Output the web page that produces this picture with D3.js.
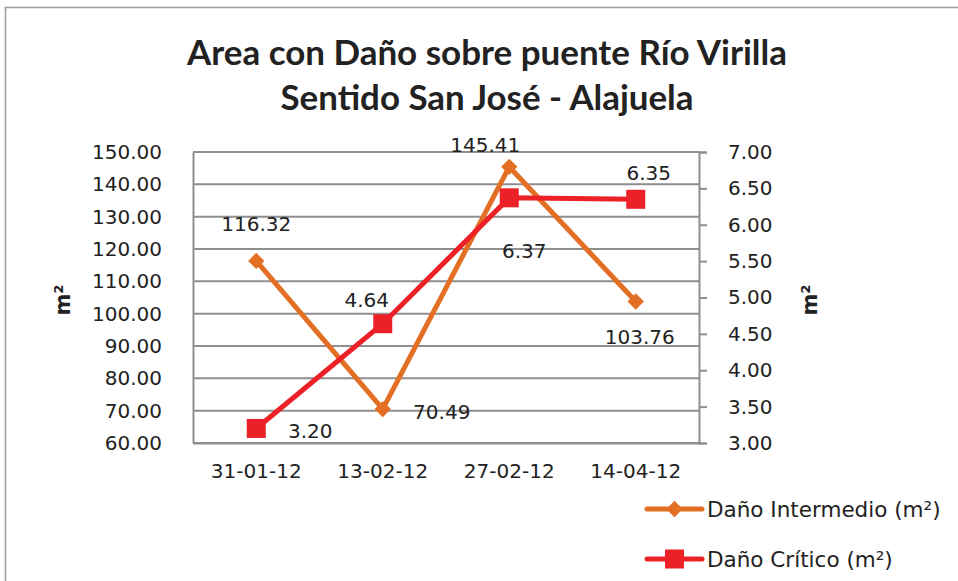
<!DOCTYPE html>
<html>
<head>
<meta charset="utf-8">
<script src="https://cdn.jsdelivr.net/npm/d3@7"></script>
<style>
  body { margin: 0; background: #fff; }
  text { font-family: "DejaVu Sans", sans-serif; fill: #222; }
</style>
</head>
<body>
<div id="chart"></div>
<script>
var fechas = ["31-01-12", "13-02-12", "27-02-12", "14-04-12"];
var intermedio = [116.32, 70.49, 145.41, 103.76];
var critico = [3.20, 4.64, 6.37, 6.35];
var leftTicks = [60, 70, 80, 90, 100, 110, 120, 130, 140, 150];
var rightTicks = [3, 3.5, 4, 4.5, 5, 5.5, 6, 6.5, 7];
var titulo = ["Area con Daño sobre puente Río Virilla", "Sentido San José - Alajuela"];
var series = ["Daño Intermedio (m²)", "Daño Crítico (m²)"];

// label placement relative to point [dx, dy]
var offIntermedio = [[0, -30], [59, 10], [-24, -15], [4, 42]];
var offCritico = [[54, 10], [-16, -17], [15, 60], [13, -19]];

var orange = "#e36f24", red = "#ec2027", grid = "#8e8e8e";

var W = 958, H = 581;
var margin = {top: 152, right: 259, bottom: 138, left: 193},
    width = W - margin.left - margin.right,
    height = H - margin.top - margin.bottom;

var svg = d3.select("#chart").append("svg")
    .attr("width", W)
    .attr("height", H);

// outer frame
svg.append("rect")
    .attr("x", 5.5).attr("y", 7.5)
    .attr("width", W + 20).attr("height", H + 20)
    .attr("fill", "none").attr("stroke", "#9a9a9a").attr("stroke-width", 1.5);

svg.selectAll(".title")
    .data(titulo)
    .enter().append("text")
    .attr("class", "title")
    .attr("x", 487)
    .attr("y", function (d, i) { return 65 + i * 45; })
    .attr("text-anchor", "middle")
    .style("font-family", "Lato, 'Open Sans', sans-serif")
    .style("font-weight", "bold")
    .style("font-size", "35px")
    .attr("textLength", function (d, i) { return i === 0 ? 600 : 413; })
    .attr("lengthAdjust", "spacingAndGlyphs")
    .text(function (d) { return d; });

var main = svg.append("g")
    .attr("transform", "translate(" + margin.left + "," + margin.top + ")");

var x = d3.scaleBand().domain(fechas).range([0, width]);
var yL = d3.scaleLinear().domain([60, 150]).range([height, 0]);
var yR = d3.scaleLinear().domain([3, 7]).range([height, 0]);

function cx(d, i) { return x(fechas[i]) + x.bandwidth() / 2; }

// gridlines
main.append("g")
    .selectAll("line")
    .data(leftTicks)
    .enter().append("line")
    .attr("x1", 0).attr("x2", width)
    .attr("y1", function (d) { return yL(d); })
    .attr("y2", function (d) { return yL(d); })
    .attr("stroke", grid).attr("stroke-width", 2);

// left axis
var gL = main.append("g")
    .call(d3.axisLeft(yL).tickValues(leftTicks).tickSize(0).tickPadding(31)
        .tickFormat(d3.format(".2f")));
gL.select(".domain").attr("stroke", grid).attr("stroke-width", 2);
gL.selectAll(".tick text").style("font-size", "20px").attr("fill", "#222")
    .style("font-family", "'DejaVu Sans', sans-serif");

// right axis
var gR = main.append("g")
    .attr("transform", "translate(" + width + ",0)")
    .call(d3.axisRight(yR).tickValues(rightTicks).tickSize(8).tickPadding(21)
        .tickFormat(d3.format(".2f")));
gR.select(".domain").attr("stroke", grid).attr("stroke-width", 2);
gR.selectAll(".tick line").attr("stroke", grid).attr("stroke-width", 2);
gR.selectAll(".tick text").style("font-size", "20px").attr("fill", "#222")
    .style("font-family", "'DejaVu Sans', sans-serif");

// bottom category labels
var gB = main.append("g")
    .attr("transform", "translate(0," + height + ")")
    .call(d3.axisBottom(x).tickSize(0).tickPadding(21));
gB.select(".domain").attr("stroke", grid).attr("stroke-width", 2);
gB.selectAll(".tick text").style("font-size", "20px").attr("fill", "#222")
    .style("font-family", "'DejaVu Sans', sans-serif");

// axis titles
svg.append("text")
    .attr("transform", "translate(70,300) rotate(-90)")
    .attr("text-anchor", "middle")
    .style("font-weight", "bold").style("font-size", "21px")
    .text("m²");
svg.append("text")
    .attr("transform", "translate(817,300) rotate(-90)")
    .attr("text-anchor", "middle")
    .style("font-weight", "bold").style("font-size", "21px")
    .text("m²");

// lines
var lineL = d3.line().x(cx).y(function (d) { return yL(d); });
var lineR = d3.line().x(cx).y(function (d) { return yR(d); });

main.append("path")
    .datum(intermedio)
    .attr("d", lineL)
    .attr("fill", "none").attr("stroke", orange).attr("stroke-width", 5);

main.append("path")
    .datum(critico)
    .attr("d", lineR)
    .attr("fill", "none").attr("stroke", red).attr("stroke-width", 5);

// markers
main.selectAll(".diamond")
    .data(intermedio)
    .enter().append("path")
    .attr("class", "diamond")
    .attr("d", d3.symbol().type(d3.symbolDiamond2).size(170))
    .attr("transform", function (d, i) { return "translate(" + cx(d, i) + "," + yL(d) + ")"; })
    .attr("fill", orange);

main.selectAll(".square")
    .data(critico)
    .enter().append("rect")
    .attr("class", "square")
    .attr("x", function (d, i) { return cx(d, i) - 9.5; })
    .attr("y", function (d) { return yR(d) - 9.5; })
    .attr("width", 19).attr("height", 19)
    .attr("fill", red);

// data labels
main.selectAll(".lblI")
    .data(intermedio)
    .enter().append("text")
    .attr("x", function (d, i) { return cx(d, i) + offIntermedio[i][0]; })
    .attr("y", function (d, i) { return yL(d) + offIntermedio[i][1]; })
    .attr("text-anchor", "middle")
    .style("font-size", "20px")
    .text(function (d) { return d3.format(".2f")(d); });

main.selectAll(".lblC")
    .data(critico)
    .enter().append("text")
    .attr("x", function (d, i) { return cx(d, i) + offCritico[i][0]; })
    .attr("y", function (d, i) { return yR(d) + offCritico[i][1]; })
    .attr("text-anchor", "middle")
    .style("font-size", "20px")
    .text(function (d) { return d3.format(".2f")(d); });

// legend
var legend = svg.append("g").attr("transform", "translate(647,509)");
var leg = legend.selectAll("g")
    .data(series)
    .enter().append("g")
    .attr("transform", function (d, i) { return "translate(0," + i * 50 + ")"; });
leg.append("line")
    .attr("x1", 0).attr("x2", 55)
    .attr("stroke", function (d, i) { return i === 0 ? orange : red; })
    .attr("stroke-width", 5).attr("stroke-linecap", "round");
leg.filter(function (d, i) { return i === 0; }).append("path")
    .attr("d", d3.symbol().type(d3.symbolDiamond2).size(170))
    .attr("transform", "translate(27.5,0)")
    .attr("fill", orange);
leg.filter(function (d, i) { return i === 1; }).append("rect")
    .attr("x", 18).attr("y", -9.5).attr("width", 19).attr("height", 19)
    .attr("fill", red);
leg.append("text")
    .attr("x", 60).attr("y", 8)
    .style("font-size", "21.5px")
    .text(function (d) { return d; });
</script>
</body>
</html>
